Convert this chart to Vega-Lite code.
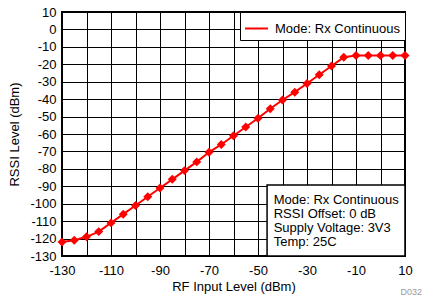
{
  "$schema": "https://vega.github.io/schema/vega-lite/v6.json",
  "width": 343,
  "height": 244,
  "autosize": {"type": "none"},
  "padding": {"left": 62, "top": 12, "right": 19, "bottom": 43},
  "background": "white",
  "config": {
    "font": "Liberation Sans",
    "view": {"stroke": "black", "strokeWidth": 2},
    "axis": {
      "grid": true, "gridColor": "black", "gridOpacity": 1, "gridWidth": 1,
      "domain": false, "ticks": false, "labelOverlap": false, "labelFlush": false, "labelBound": false,
      "tickCount": 40,
      "labelFont": "Liberation Sans", "labelFontSize": 13, "labelColor": "black",
      "titleFont": "Liberation Sans", "titleFontSize": 13, "titleFontWeight": "normal", "titleColor": "black"
    }
  },
  "datasets": {
    "rssi": [
      {"x": -130, "y": -122, "s": "Mode: Rx Continuous"},
      {"x": -125, "y": -121, "s": "Mode: Rx Continuous"},
      {"x": -120, "y": -119, "s": "Mode: Rx Continuous"},
      {"x": -115, "y": -116, "s": "Mode: Rx Continuous"},
      {"x": -110, "y": -111, "s": "Mode: Rx Continuous"},
      {"x": -105, "y": -106, "s": "Mode: Rx Continuous"},
      {"x": -100, "y": -101, "s": "Mode: Rx Continuous"},
      {"x": -95, "y": -96, "s": "Mode: Rx Continuous"},
      {"x": -90, "y": -91, "s": "Mode: Rx Continuous"},
      {"x": -85, "y": -86, "s": "Mode: Rx Continuous"},
      {"x": -80, "y": -81, "s": "Mode: Rx Continuous"},
      {"x": -75, "y": -76, "s": "Mode: Rx Continuous"},
      {"x": -70, "y": -70.5, "s": "Mode: Rx Continuous"},
      {"x": -65, "y": -66, "s": "Mode: Rx Continuous"},
      {"x": -60, "y": -61, "s": "Mode: Rx Continuous"},
      {"x": -55, "y": -56, "s": "Mode: Rx Continuous"},
      {"x": -50, "y": -51, "s": "Mode: Rx Continuous"},
      {"x": -45, "y": -45.5, "s": "Mode: Rx Continuous"},
      {"x": -40, "y": -40.5, "s": "Mode: Rx Continuous"},
      {"x": -35, "y": -36, "s": "Mode: Rx Continuous"},
      {"x": -30, "y": -31, "s": "Mode: Rx Continuous"},
      {"x": -25, "y": -26, "s": "Mode: Rx Continuous"},
      {"x": -20, "y": -21, "s": "Mode: Rx Continuous"},
      {"x": -15, "y": -16, "s": "Mode: Rx Continuous"},
      {"x": -10, "y": -15, "s": "Mode: Rx Continuous"},
      {"x": -5, "y": -15, "s": "Mode: Rx Continuous"},
      {"x": 0, "y": -15, "s": "Mode: Rx Continuous"},
      {"x": 5, "y": -15, "s": "Mode: Rx Continuous"},
      {"x": 10, "y": -15, "s": "Mode: Rx Continuous"}
    ],
    "box": [{"x1": -46.3, "x2": 10, "y1": -130, "y2": -89.3}],
    "notes": [
      {"x": -43.6, "y": -97.9, "t": "Mode: Rx Continuous"},
      {"x": -43.6, "y": -105.9, "t": "RSSI Offset: 0 dB"},
      {"x": -43.6, "y": -113.9, "t": "Supply Voltage: 3V3"},
      {"x": -43.6, "y": -121.9, "t": "Temp: 25C"}
    ],
    "code": [{"x": 16.9, "y": -150.5, "t": "D032"}]
  },
  "layer": [
    {
      "data": {"name": "box"},
      "mark": {"type": "rect", "fill": "white", "stroke": "black", "strokeWidth": 1.5},
      "encoding": {
        "x": {"field": "x1", "type": "quantitative", "scale": {"domain": [-130, 10], "nice": false, "zero": false},
          "axis": {"values": [-130,-120,-110,-100,-90,-80,-70,-60,-50,-40,-30,-20,-10,0,10],
            "tickCount": 40,
            "labelExpr": "(datum.value + 130) % 20 == 0 ? '' + datum.value : ''",
            "title": "RF Input Level (dBm)", "labelPadding": 8, "titlePadding": 3}},
        "x2": {"field": "x2"},
        "y": {"field": "y1", "type": "quantitative", "scale": {"domain": [-130, 10], "nice": false, "zero": false},
          "axis": {"values": [-130,-120,-110,-100,-90,-80,-70,-60,-50,-40,-30,-20,-10,0,10],
            "tickCount": 40,
            "labelExpr": "'' + datum.value",
            "title": "RSSI Level (dBm)", "labelPadding": 6, "titlePadding": 8}},
        "y2": {"field": "y2"}
      }
    },
    {
      "data": {"name": "notes"},
      "mark": {"type": "text", "align": "left", "baseline": "middle", "fontSize": 13, "color": "black"},
      "encoding": {
        "x": {"field": "x", "type": "quantitative"},
        "y": {"field": "y", "type": "quantitative"},
        "text": {"field": "t"}
      }
    },
    {
      "data": {"name": "code"},
      "mark": {"type": "text", "align": "right", "baseline": "middle", "fontSize": 9, "color": "#999999"},
      "encoding": {
        "x": {"field": "x", "type": "quantitative"},
        "y": {"field": "y", "type": "quantitative"},
        "text": {"field": "t"}
      }
    },
    {
      "data": {"name": "rssi"},
      "mark": {"type": "line", "strokeWidth": 2},
      "encoding": {
        "x": {"field": "x", "type": "quantitative"},
        "y": {"field": "y", "type": "quantitative"},
        "color": {"field": "s", "type": "nominal", "scale": {"range": ["#ff0000"]},
          "legend": {"title": null, "orient": "top-right", "offset": 0, "strokeColor": "black", "fillColor": "white",
            "padding": 4, "symbolType": "stroke", "symbolSize": 529, "symbolStrokeWidth": 2,
            "labelFontSize": 13, "labelColor": "black", "labelFont": "Liberation Sans", "symbolOffset": 0, "labelOffset": 6}}
      }
    },
    {
      "data": {"name": "rssi"},
      "mark": {"type": "point", "shape": "diamond", "filled": true, "size": 80, "color": "#ff0000", "opacity": 1},
      "encoding": {
        "x": {"field": "x", "type": "quantitative"},
        "y": {"field": "y", "type": "quantitative"}
      }
    }
  ]
}
